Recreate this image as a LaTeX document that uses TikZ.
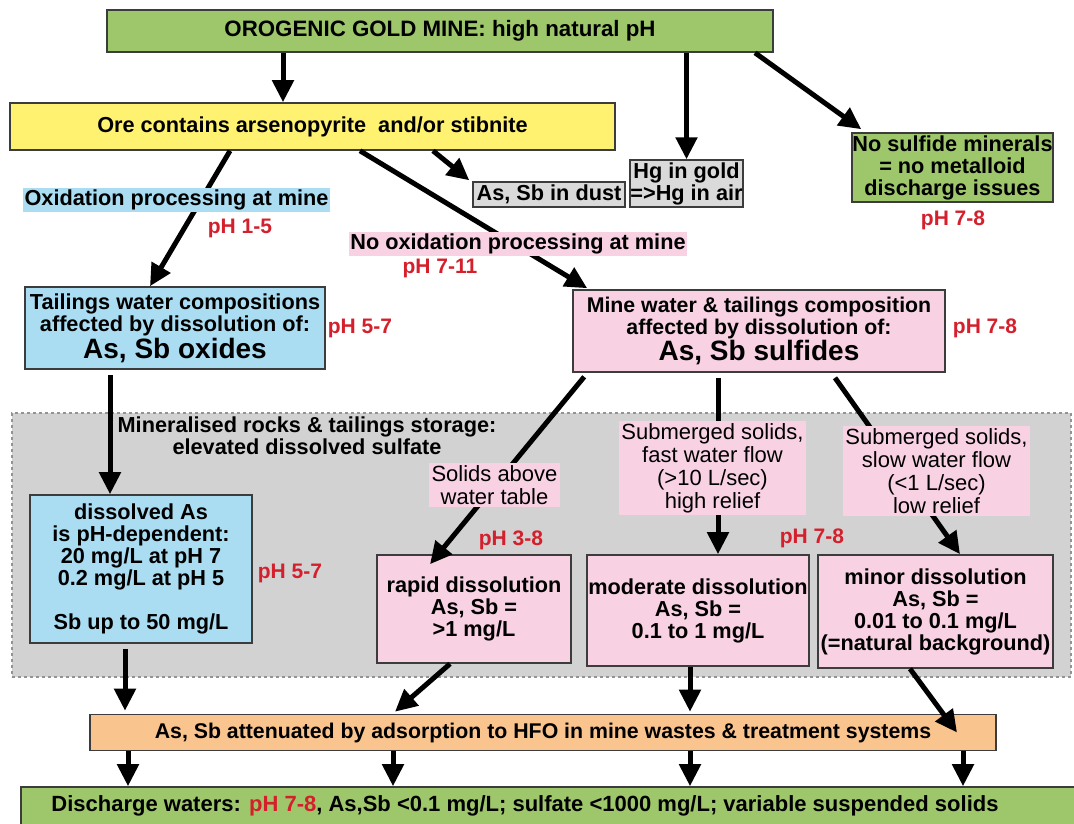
\documentclass[tikz,border=0pt]{standalone}
\usepackage{fontspec}
\setmainfont{Liberation Sans}
\usetikzlibrary{arrows.meta,calc}
\definecolor{gbox}{RGB}{158,198,106}
\definecolor{ybox}{RGB}{255,242,112}
\definecolor{bbox}{RGB}{170,221,242}
\definecolor{pbox}{RGB}{248,210,227}
\definecolor{obox}{RGB}{250,196,142}
\definecolor{sgray}{RGB}{218,218,218}
\definecolor{rgray}{RGB}{210,210,210}
\definecolor{phred}{RGB}{212,32,44}
\definecolor{edge}{RGB}{60,60,60}
\begin{document}
\begin{tikzpicture}[x=1pt,y=-1pt,
  box/.style={draw=edge, line width=1.6pt, inner sep=0pt, align=center,
    font=\fontsize{21.7}{22}\selectfont\bfseries},
  lbl/.style={inner sep=1.5pt, align=center, font=\fontsize{21.7}{22}\selectfont\bfseries},
  rlbl/.style={fill=pbox, inner sep=2.5pt, align=center, font=\fontsize{22}{23}\selectfont},
  ph/.style={text=phred, font=\fontsize{21}{22}\selectfont\bfseries},
  arr/.style={line width=5pt, -{Triangle[length=22pt,width=21pt]}}]
\useasboundingbox (0,0) rectangle (1074,823);

% storage region
\node[draw=gray!85, dashed, line width=1.4pt, fill=rgray, minimum width=1059pt, minimum height=264pt, inner sep=0pt] (store) at (541.5,545) {};
\node[lbl] (storetxt) at (307,436) {Mineralised rocks \& tailings storage:\\elevated dissolved sulfate};

% boxes
\node[box, fill=gbox, minimum width=666pt, minimum height=42pt, font=\fontsize{22.3}{23}\selectfont\bfseries] (top) at (440,31) {OROGENIC GOLD MINE: high natural pH};
\node[box, fill=ybox, minimum width=605pt, minimum height=47pt] (ore) at (312.5,126.5) {Ore contains arsenopyrite\ \ and/or stibnite};
\node[box, fill=sgray, minimum width=152pt, minimum height=25pt, line width=1.4pt] (dust) at (549,194.5) {As, Sb in dust};
\node[box, fill=sgray, minimum width=113pt, minimum height=47pt, line width=1.4pt] (hg) at (686.5,183.5) {Hg in gold\\=>Hg in air};
\node[box, fill=gbox, minimum width=201pt, minimum height=69pt] (nosulf) at (952.5,167.5) {No sulfide minerals\\= no metalloid\\discharge issues};
\node[box, fill=bbox, minimum width=300pt, minimum height=82pt] (tail) at (175,328) {Tailings water compositions\\affected by dissolution of:\\[1pt]{\fontsize{28}{27}\selectfont As, Sb oxides}};
\node[box, fill=pbox, minimum width=372pt, minimum height=82pt, font=\fontsize{21.3}{22}\selectfont\bfseries] (minew) at (759,331) {Mine water \& tailings composition\\affected by dissolution of:\\[1pt]{\fontsize{28}{27}\selectfont As, Sb sulfides}};
\node[box, fill=bbox, minimum width=222pt, minimum height=148pt] (diss) at (141,569) {dissolved As\\is pH-dependent:\\20 mg/L at pH 7\\0.2 mg/L at pH 5\\[22pt]Sb up to 50 mg/L};
\node[box, fill=pbox, minimum width=194pt, minimum height=108pt] (rapid) at (474,609) {rapid dissolution\\As, Sb =\\>1 mg/L};
\node[box, fill=pbox, minimum width=222pt, minimum height=111pt] (moder) at (698,610.5) {moderate dissolution\\As, Sb =\\0.1 to 1 mg/L};
\node[box, fill=pbox, minimum width=235pt, minimum height=113pt] (minor) at (935.5,611.5) {minor dissolution\\As, Sb =\\0.01 to 0.1 mg/L\\(=natural background)};
\node[box, fill=obox, minimum width=906pt, minimum height=36pt, font=\fontsize{21.3}{22}\selectfont\bfseries] (atten) at (543,732.5) {As, Sb attenuated by adsorption to HFO in mine wastes \& treatment systems};
\node[box, fill=gbox, minimum width=1064pt, minimum height=46pt] (disch) at (553,810) {};
\node[lbl, font=\fontsize{22}{22}\selectfont\bfseries] (dischtxt) at (525,806) {Discharge waters: \textcolor{phred}{pH 7-8}, As,Sb <0.1 mg/L; sulfate <1000 mg/L; variable suspended solids};

% arrows
\draw[arr] ([xshift=-157pt]top.south) -- ([xshift=-29.5pt]ore.north);
\draw[arr] (hg.north |- top.south) -- (hg.north);
\draw[arr] ([xshift=315pt]top.south) -- ([xshift=10pt,yshift=3pt]nosulf.north west);
\draw[arr] ([xshift=120.5pt]ore.south) -- ([xshift=-3pt,yshift=1pt]dust.north west);
\draw[arr] ([xshift=-82.5pt]ore.south) -- ([xshift=-25pt]tail.north);
\draw[arr] ([xshift=47.5pt]ore.south) -- ([xshift=15pt,yshift=1pt]minew.north west);
\draw[arr] ([xshift=-65pt,yshift=-5pt]tail.south) -- ([xshift=-31pt]diss.north);
\draw[arr] ([xshift=12pt,yshift=-4pt]minew.south west) -- ([xshift=-44pt,yshift=-10pt]rapid.north);
\draw[arr] ([xshift=-41pt,yshift=-5pt]minew.south) -- ([xshift=20pt]moder.north);
\draw[arr] ([xshift=76pt,yshift=-5pt]minew.south) -- ([xshift=24.5pt]minor.north);
\draw[arr] ([xshift=-16pt,yshift=-5pt]diss.south) -- ([xshift=-418pt,yshift=3pt]atten.north);
\draw[arr] ([xshift=-24pt]rapid.south) -- ([xshift=-148pt,yshift=2pt]atten.north);
\draw[arr] ([xshift=-8pt]moder.south) -- ([xshift=147pt,yshift=2pt]atten.north);
\draw[arr] ([xshift=-25.5pt]minor.south) -- ([xshift=414pt]atten.center);
\foreach \dx in {-415,-150,147,420}
  \draw[arr] ([xshift=\dx pt]atten.south) -- ([xshift=\dx pt]atten.south |- disch.north);

% labels over arrows
\node[lbl, fill=bbox] (oxlbl) at (176.5,200) {Oxidation processing at mine};
\node[lbl, fill=pbox] (noxlbl) at (518,244) {No oxidation processing at mine};
\node[rlbl] (solids) at (494.5,485) {Solids above\\water table};
\node[rlbl] (fast) at (712.5,468) {Submerged solids,\\fast water flow\\(>10 L/sec)\\high relief};
\node[rlbl] (slow) at (936.5,471) {Submerged solids,\\slow water flow\\(<1 L/sec)\\low relief};

% pH labels
\node[ph] (ph15) at (240,228) {pH 1-5};
\node[ph] (ph711) at (440,268) {pH 7-11};
\node[ph] (ph78a) at (953,220) {pH 7-8};
\node[ph] (ph57a) at (360,328) {pH 5-7};
\node[ph] (ph78b) at (985,328) {pH 7-8};
\node[ph] (ph38) at (511,540) {pH 3-8};
\node[ph] (ph57b) at (290,573) {pH 5-7};
\node[ph] (ph78c) at (812,538) {pH 7-8};
\end{tikzpicture}
\end{document}
